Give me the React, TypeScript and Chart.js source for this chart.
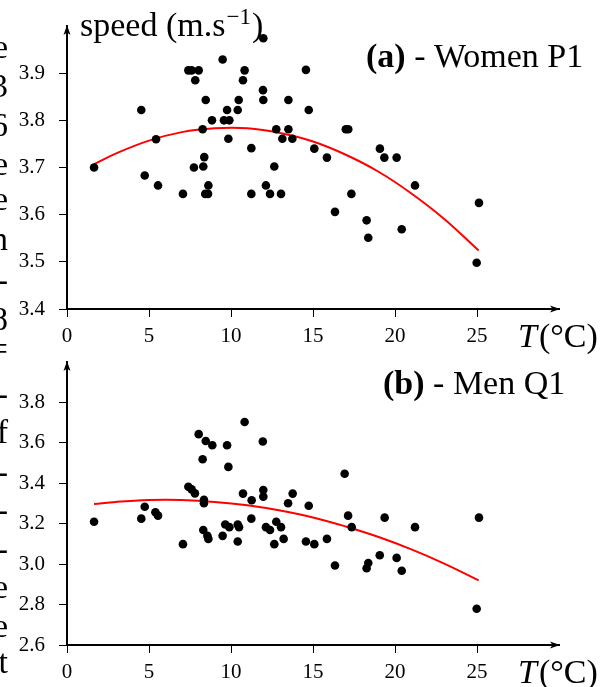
import React, { useEffect, useRef } from "react";
import { Chart, registerables } from "chart.js";

Chart.register(...registerables);

// ---------- data ----------
const xTicks = [0, 5, 10, 15, 20, 25];
const womenTicks = [3.4, 3.5, 3.6, 3.7, 3.8, 3.9];
const menTicks = [2.6, 2.8, 3.0, 3.2, 3.4, 3.6, 3.8];

const womenT = [1.65, 4.53, 4.74, 5.43, 5.55, 7.07, 7.4, 7.6, 8.03, 7.82, 7.74, 8.27, 8.31, 8.37, 8.46, 8.84, 8.62, 8.43, 8.6, 9.49, 9.57, 9.9, 9.76, 9.84, 10.41, 10.47, 10.73, 10.83, 11.24, 11.24, 11.97, 11.95, 11.97, 12.64, 12.13, 12.38, 13.05, 12.76, 13.13, 13.5, 13.5, 13.74, 14.57, 14.74, 17.0, 17.15, 15.08, 15.85, 19.08, 19.35, 20.1, 21.22, 17.34, 16.34, 18.27, 18.37, 20.41, 25.12, 24.98];
const womenSpeed = [3.70, 3.822, 3.683, 3.76, 3.662, 3.644, 3.906, 3.906, 3.906, 3.885, 3.70, 3.781, 3.702, 3.722, 3.843, 3.80, 3.662, 3.644, 3.644, 3.929, 3.80, 3.80, 3.822, 3.761, 3.822, 3.843, 3.885, 3.906, 3.741, 3.644, 3.974, 3.864, 3.843, 3.702, 3.662, 3.644, 3.644, 3.781, 3.761, 3.843, 3.781, 3.761, 3.907, 3.822, 3.781, 3.781, 3.740, 3.721, 3.740, 3.721, 3.721, 3.662, 3.644, 3.606, 3.588, 3.551, 3.569, 3.625, 3.498];

const menT = [8.03, 8.46, 8.86, 9.76, 8.27, 9.84, 10.83, 11.94, 7.4, 7.6, 7.8, 8.35, 8.35, 10.73, 11.26, 11.97, 11.97, 13.48, 13.76, 1.65, 4.53, 4.74, 5.39, 5.55, 7.07, 8.31, 8.56, 8.62, 9.49, 9.65, 9.9, 10.41, 10.49, 10.41, 11.24, 12.13, 12.38, 12.76, 13.05, 12.64, 13.21, 16.93, 14.74, 17.14, 19.37, 25.12, 17.36, 21.22, 14.57, 15.08, 15.85, 16.34, 18.27, 18.37, 19.07, 20.1, 20.41, 24.98];
const menSpeed = [3.643, 3.609, 3.588, 3.588, 3.519, 3.481, 3.703, 3.607, 3.383, 3.37, 3.35, 3.318, 3.301, 3.349, 3.316, 3.367, 3.334, 3.301, 3.349, 3.21, 3.225, 3.284, 3.257, 3.24, 3.099, 3.169, 3.14, 3.125, 3.14, 3.196, 3.183, 3.196, 3.183, 3.112, 3.225, 3.183, 3.169, 3.21, 3.183, 3.099, 3.125, 3.447, 3.289, 3.24, 3.23, 3.23, 3.183, 3.183, 3.112, 3.099, 3.125, 2.993, 2.98, 3.006, 3.044, 3.031, 2.967, 2.779];

const fitT = [1.65, 3, 5, 7, 9, 11, 13, 15, 17, 19, 21, 23, 25.1];
const womenFit = [3.707, 3.730, 3.757, 3.775, 3.783, 3.783, 3.773, 3.755, 3.727, 3.691, 3.645, 3.591, 3.524];
const menFit = [3.297, 3.308, 3.317, 3.317, 3.308, 3.291, 3.265, 3.231, 3.186, 3.134, 3.073, 3.003, 2.920];

const marginGlyphs = ["e", "3", "6", "e", "e", "n", "-", "8", "=", "-", "f", "-", "-", "-", "e", "e", "t"];
const marginBaselines = [58, 97, 136, 175, 210, 250, 291, 330, 360, 405, 443, 483, 521, 560, 598, 637, 673];

// ---------- layout / style ----------
const SERIF = "'Liberation Serif', 'Times New Roman', serif";
const W = 601;

type Panel = {
  top: number;
  height: number;
  padTop: number;
  xAxisHeight: number;
  yMin: number;
  yMax: number;
  yTicks: number[];
  T: number[];
  speed: number[];
  fit: number[];
  bold: string;
  rest: string;
  labelX: number;
  labelBase: number;
  speedTitle: boolean;
  tBase: number;
};

const panels: Panel[] = [
  {
    top: 0, height: 357, padTop: 26, xAxisHeight: 48,
    yMin: 3.4, yMax: 4.0, yTicks: womenTicks,
    T: womenT, speed: womenSpeed, fit: womenFit,
    bold: "(a)", rest: " - Women P1", labelX: 366, labelBase: 67,
    speedTitle: true, tBase: 347,
  },
  {
    top: 357, height: 330, padTop: 5, xAxisHeight: 42,
    yMin: 2.6, yMax: 4.0, yTicks: menTicks,
    T: menT, speed: menSpeed, fit: menFit,
    bold: "(b)", rest: " - Men Q1", labelX: 383, labelBase: 394 - 357,
    speedTitle: false, tBase: 683 - 357,
  },
];

function arrowHead(ctx: CanvasRenderingContext2D, x: number, y: number, dir: "up" | "right") {
  ctx.beginPath();
  if (dir === "up") {
    ctx.moveTo(x, y - 1);
    ctx.lineTo(x - 3.5, y + 9);
    ctx.lineTo(x, y + 6.5);
    ctx.lineTo(x + 3.5, y + 9);
  } else {
    ctx.moveTo(x + 1, y);
    ctx.lineTo(x - 9, y - 3.5);
    ctx.lineTo(x - 6.5, y);
    ctx.lineTo(x - 9, y + 3.5);
  }
  ctx.closePath();
  ctx.fill();
}

function PanelChart({ p }: { p: Panel }) {
  const ref = useRef<HTMLCanvasElement>(null);
  useEffect(() => {
    const deco = {
      id: "deco",
      afterDraw(chart: any) {
        const ctx: CanvasRenderingContext2D = chart.ctx;
        const { left, right, top, bottom } = chart.chartArea;
        ctx.save();
        ctx.fillStyle = "#000";
        arrowHead(ctx, left, top, "up");
        arrowHead(ctx, right, bottom, "right");

        ctx.textBaseline = "alphabetic";
        ctx.textAlign = "left";
        if (p.speedTitle) {
          ctx.font = `34px ${SERIF}`;
          const s1 = "speed (m.s";
          ctx.fillText(s1, 80, 36);
          let x = 80 + ctx.measureText(s1).width + 1;
          ctx.font = `23px ${SERIF}`;
          ctx.fillText("\u22121", x, 24);
          x += ctx.measureText("\u22121").width + 1;
          ctx.font = `34px ${SERIF}`;
          ctx.fillText(")", x, 36);
        }
        // panel label
        ctx.font = `bold 34px ${SERIF}`;
        ctx.fillText(p.bold, p.labelX, p.labelBase);
        const bw = ctx.measureText(p.bold).width;
        ctx.font = `34px ${SERIF}`;
        ctx.fillText(p.rest, p.labelX + bw, p.labelBase);

        // T(°C)
        ctx.font = `italic 34px ${SERIF}`;
        ctx.fillText("T", 518, p.tBase);
        const tw = ctx.measureText("T").width;
        ctx.font = `34px ${SERIF}`;
        ctx.fillText("(\u00B0C)", 518 + tw + 2, p.tBase);

        // clipped text from the page margin
        ctx.textAlign = "right";
        ctx.font = `34px ${SERIF}`;
        marginGlyphs.forEach((g, i) => {
          ctx.fillText(g, 8, marginBaselines[i] - p.top);
        });
        ctx.restore();
      },
    };

    const chart = new Chart(ref.current!, {
      type: "scatter",
      data: {
        datasets: [
          {
            data: p.T.map((t, i) => ({ x: t, y: p.speed[i] })),
            pointRadius: 4.3,
            pointHoverRadius: 4.3,
            backgroundColor: "#000",
            borderWidth: 0,
          },
          {
            data: fitT.map((t, i) => ({ x: t, y: p.fit[i] })),
            showLine: true,
            pointRadius: 0,
            borderColor: "#ff0000",
            borderWidth: 2,
            tension: 0.4,
            fill: false,
          } as any,
        ],
      },
      options: {
        animation: false,
        responsive: false,
        maintainAspectRatio: false,
        devicePixelRatio: 1,
        events: [],
        layout: { padding: { top: p.padTop, right: 42, bottom: 0, left: 0 } },
        plugins: { legend: { display: false }, tooltip: { enabled: false } },
        scales: {
          x: {
            type: "linear",
            min: 0,
            max: 30,
            afterBuildTicks: (s: any) => {
              s.ticks = xTicks.map((v) => ({ value: v }));
            },
            afterFit: (s: any) => {
              s.height = p.xAxisHeight;
              s.paddingLeft = 0;
              s.paddingRight = 0;
            },
            ticks: {
              color: "#000",
              font: { family: SERIF, size: 21 },
              padding: 7,
              maxRotation: 0,
              autoSkip: false,
              callback: (v: any) => String(v),
            },
            grid: { display: true, drawOnChartArea: false, drawTicks: true, tickLength: 8, color: "#000", lineWidth: 1 },
            border: { display: true, color: "#000", width: 2 },
          },
          y: {
            type: "linear",
            min: p.yMin,
            max: p.yMax,
            afterBuildTicks: (s: any) => {
              s.ticks = p.yTicks.map((v) => ({ value: v }));
            },
            afterFit: (s: any) => {
              s.width = 67;
              s.paddingTop = 0;
              s.paddingBottom = 0;
            },
            ticks: {
              color: "#000",
              font: { family: SERIF, size: 21 },
              padding: 14,
              autoSkip: false,
              callback: (v: any) => Number(v).toFixed(1),
            },
            grid: { display: true, drawOnChartArea: false, drawTicks: true, tickLength: 8, color: "#000", lineWidth: 1 },
            border: { display: true, color: "#000", width: 2 },
          },
        },
      },
      plugins: [deco],
    } as any);
    return () => chart.destroy();
  }, []);
  return (
    <canvas
      ref={ref}
      width={W}
      height={p.height}
      style={{ position: "absolute", left: 0, top: p.top, width: W, height: p.height, display: "block" }}
    />
  );
}

export default function App() {
  return (
    <div style={{ position: "absolute", left: 0, top: 0, width: W, height: 687, overflow: "hidden", background: "#fff" }}>
      {panels.map((p, i) => (
        <PanelChart key={i} p={p} />
      ))}
    </div>
  );
}
